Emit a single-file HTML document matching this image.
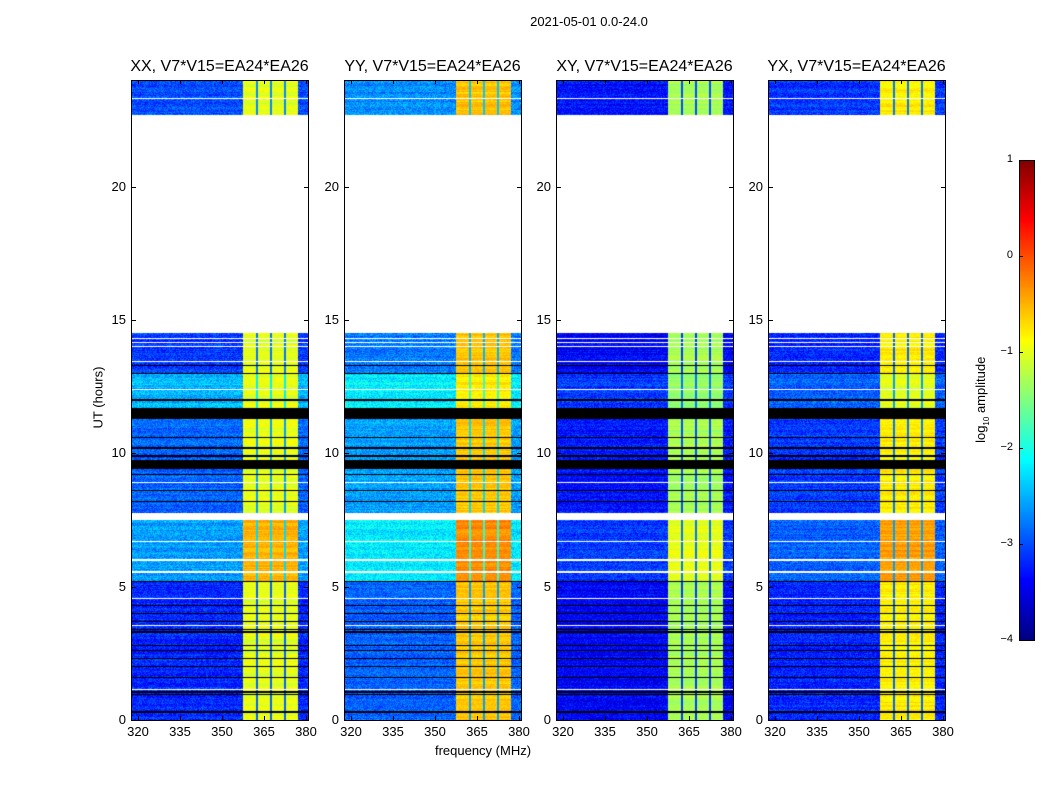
<!DOCTYPE html>
<html><head><meta charset="utf-8"><style>
body{margin:0;background:#fff;font-family:"Liberation Sans",sans-serif;}
#root{position:relative;width:1050px;height:800px;overflow:hidden;background:#fff}
.t{position:absolute;white-space:nowrap;color:#000}
canvas{position:absolute}
.frame{position:absolute;border:1px solid #000;box-sizing:border-box}
</style></head><body>
<div id="root">
<div class="t" style="left:489px;top:14px;width:200px;text-align:center;font-size:13px">2021-05-01 0.0-24.0</div>
<div class="t" style="left:383px;top:743px;width:200px;text-align:center;font-size:13px">frequency (MHz)</div>
<div class="t" style="left:48px;top:390px;width:100px;text-align:center;font-size:13px;transform:rotate(-90deg)">UT (hours)</div>
<div class="t" style="left:922px;top:391px;width:120px;text-align:center;font-size:13px;transform:rotate(-90deg)">log<sub style="font-size:8px">10</sub> amplitude</div>
</div>
<script>
const panelNames=["XX","YY","XY","YX"];
const segStart=[0,5.2,7.75,11.7,13.0,22.7];
const segEnd=[5.2,7.5,11.7,13.0,14.5,24];
const bgLevels=[[-3.2,-2.6,-2.9,-2.5,-3.1,-3.0],[-2.9,-2.2,-2.6,-2.2,-2.8,-2.7],[-3.4,-3.1,-3.3,-3.1,-3.4,-3.3],[-3.2,-2.9,-3.1,-2.9,-3.2,-3.1]];
const bandLevels=[[-1.0,-0.5,-1.0,-1.0,-1.0,-1.0],[-0.6,-0.3,-0.6,-0.8,-0.6,-0.6],[-1.3,-1.0,-1.3,-1.4,-1.3,-1.3],[-0.8,-0.4,-0.8,-1.0,-0.8,-0.8]];
const bandStart=357.5, bandEnd=377;
const bandGaps=[362.5,367.5,372.5];
const blackLines=[0.3,0.95,1.05,1.6,2.0,2.3,2.6,2.8,3.3,3.4,3.7,4.0,4.3,5.2,8.2,8.6,9.2,9.9,10.2,10.6,12.0,13.0,13.3];
const blackBandStart=[9.4,11.3];
const blackBandEnd=[9.75,11.7];
const whiteLines=[1.15,3.55,4.55,5.55,6.0,6.7,7.55,7.62,7.7,8.9,12.4,13.45,14.0,14.15,14.3,23.3];
const xTicks=[320,335,350,365,380];
const yTicks=[0,5,10,15,20];
const cbTicks=[1,0,-1,-2,-3,-4];
const panelLefts=[131,344,556,768];
const PW=177,PT=80,PH=640,F0=317.5,FPX=2.8;
const root=document.getElementById('root');
function jet(t){t=Math.max(0,Math.min(1,t));const c=v=>Math.round(255*Math.max(0,Math.min(1,v)));return [c(1.5-Math.abs(4*t-3)),c(1.5-Math.abs(4*t-2)),c(1.5-Math.abs(4*t-1))];}
function hash(a,b){let h=(a*374761393+b*668265263)|0;h=(h^(h>>>13))*1274126177|0;return ((h^(h>>>16))>>>0)/4294967296;}
const yOf=h=>PT+PH-h*PH/24;
panelNames.forEach((nm,p)=>{
  const L=panelLefts[p];
  const cv=document.createElement('canvas');cv.width=PW;cv.height=PH;cv.style.left=L+'px';cv.style.top=PT+'px';
  
  
  root.appendChild(cv);
  const ctx=cv.getContext('2d');const img=ctx.createImageData(PW,PH);
  for(let y=0;y<PH;y++){
    const h=24-(y+0.5)*24/PH;
    let s=-1;for(let k=0;k<segStart.length;k++)if(h>=segStart[k]&&h<segEnd[k])s=k;
    let black=blackLines.some(v=>Math.abs(h-v)<0.03)||blackBandStart.some((b,k)=>h>=b&&h<blackBandEnd[k]);
    let white=whiteLines.some(v=>Math.abs(h-v)<0.03);
    for(let x=0;x<PW;x++){
      const i=(y*PW+x)*4;let col;
      if(s<0||white)col=[255,255,255];else if(black)col=[0,0,0];
      else{
        const f=F0+(x+0.5)/FPX;const n=hash(x+p*1000,y)-0.5;const rn=hash(p,y)-0.5;
        let v;
        if(f>=bandStart&&f<bandEnd){
          const gap=bandGaps.some(g=>Math.abs(f-g)<0.4);
          v=gap?bgLevels[p][s]+0.3:bandLevels[p][s]+n*0.2+rn*0.25;
        }else v=bgLevels[p][s]+n*0.55+rn*0.25;
        col=jet((v+4)/5);
      }
      img.data[i]=col[0];img.data[i+1]=col[1];img.data[i+2]=col[2];img.data[i+3]=255;
    }
  }
  ctx.putImageData(img,0,0);
  const fr=document.createElement('div');fr.className='frame';
  fr.style.cssText=`left:${L}px;top:${PT}px;width:${PW+1}px;height:${PH+1}px`;
  
  
  root.appendChild(fr);
  const ti=document.createElement('div');ti.className='t';
  ti.style.cssText=`left:${L-30}px;top:58px;width:${PW+60}px;text-align:center;font-size:16px`;
  ti.textContent=nm+', V7*V15=EA24*EA26';
  
  
  root.appendChild(ti);
  xTicks.forEach(v=>{
    const x=L+(v-F0)*FPX;
    const lb=document.createElement('div');lb.className='t';
    lb.style.cssText=`left:${x-20}px;top:724px;width:40px;text-align:center;font-size:13px`;
    lb.textContent=v;
    
    
    root.appendChild(lb);
    [PT,PT+PH-4].forEach(t=>{const tk=document.createElement('div');tk.style.cssText=`position:absolute;left:${x}px;top:${t}px;width:1px;height:4px;background:#000`;
      
      
      root.appendChild(tk);});
  });
  yTicks.forEach(v=>{
    const y=yOf(v);
    const lb=document.createElement('div');lb.className='t';
    lb.style.cssText=`left:${L-40}px;top:${y-8}px;width:35px;text-align:right;font-size:13px`;
    lb.textContent=v;
    
    
    root.appendChild(lb);
    [L,L+PW-4].forEach(t=>{const tk=document.createElement('div');tk.style.cssText=`position:absolute;left:${t}px;top:${y}px;width:5px;height:1px;background:#000`;
      
      
      root.appendChild(tk);});
  });
});
const CBL=1019,CBT=160,CBW=15,CBH=480;
const cb=document.createElement('canvas');cb.width=CBW;cb.height=CBH;cb.style.left=CBL+'px';cb.style.top=CBT+'px';


root.appendChild(cb);
const cctx=cb.getContext('2d');
for(let y=0;y<CBH;y++){const c=jet(1-(y+0.5)/CBH);cctx.fillStyle=`rgb(${c[0]},${c[1]},${c[2]})`;cctx.fillRect(0,y,CBW,1);}
const cbf=document.createElement('div');cbf.className='frame';cbf.style.cssText=`left:${CBL}px;top:${CBT}px;width:${CBW+1}px;height:${CBH+1}px`;


root.appendChild(cbf);
cbTicks.forEach(v=>{
  const y=CBT+(1-v)*CBH/5;
  const lb=document.createElement('div');lb.className='t';
  lb.style.cssText=`left:${CBL-40}px;top:${y-7}px;width:34px;text-align:right;font-size:11px`;
  lb.textContent=String(v).replace('-','\u2212');
  
  
  root.appendChild(lb);
  const tk=document.createElement('div');tk.style.cssText=`position:absolute;left:${CBL}px;top:${y}px;width:4px;height:1px;background:#000`;
  
  
  root.appendChild(tk);
});
</script>
</body></html>
